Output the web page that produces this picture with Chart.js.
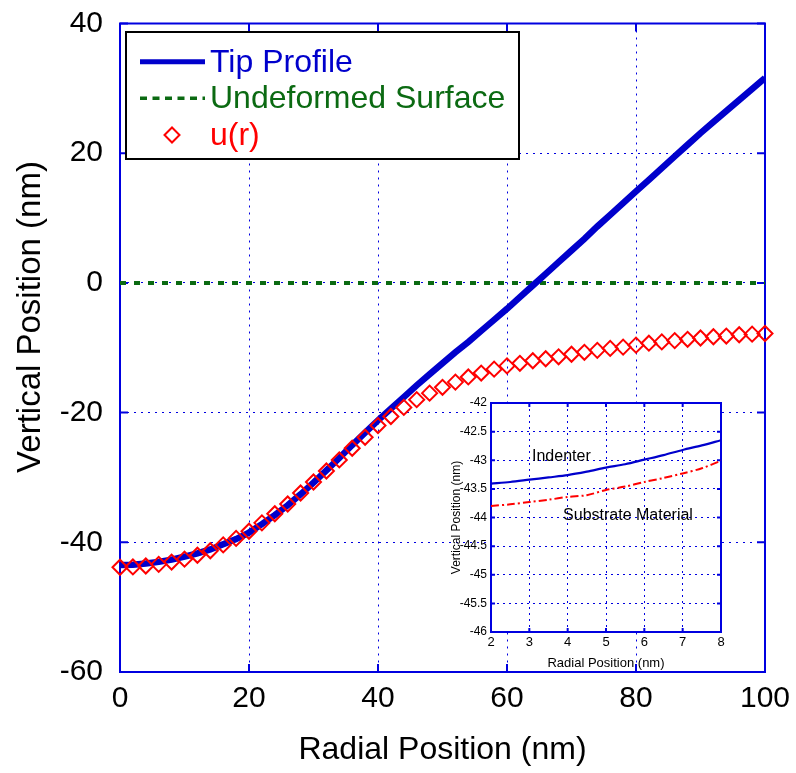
<!DOCTYPE html>
<html>
<head>
<meta charset="utf-8">
<script src="https://cdn.jsdelivr.net/npm/chart.js@4.4.1/dist/chart.umd.min.js"></script>
<style>
  html, body { margin: 0; padding: 0; background: #fff; }
  #wrap { position: relative; width: 796px; height: 773px; }
  #mainChart { position: absolute; left: 0; top: 0; }
  #insetChart { position: absolute; left: 440px; top: 390px; }
</style>
</head>
<body>
<div id="wrap">
  <canvas id="mainChart" width="796" height="773"></canvas>
  <canvas id="insetChart" width="290" height="283"></canvas>
</div>
<script>
// main plot data (nm)
const radii = [
  0, 2, 4, 6, 8, 10, 12, 14, 16, 18, 20, 22, 24, 26, 28, 30, 32, 34, 36, 38,
  40, 42, 44, 46, 48, 50, 52, 54, 56, 58, 60, 62, 64, 66, 68, 70, 72, 74, 76, 78,
  80, 82, 84, 86, 88, 90, 92, 94, 96, 98, 100,
];
const tipProfile = [
  -43.5, -43.45, -43.28, -43.02, -42.68, -42.2, -41.7, -41.1, -40.3, -39.5,
  -38.5, -37.2, -35.8, -34.3, -32.6, -30.8, -28.9, -27.0, -25.0, -23.1,
  -21.2, -19.4, -17.6, -15.8, -14.1, -12.4, -10.7, -9.1, -7.4, -5.7,
  -4.0, -2.2, -0.4, 1.4, 3.2, 5.0, 6.8, 8.7, 10.5, 12.3,
  14.1, 15.9, 17.7, 19.5, 21.3, 23.1, 24.8, 26.5, 28.2, 29.9, 31.6,
];
const uValues = [
  -43.85, -43.8, -43.65, -43.4, -43.05, -42.6, -42.0, -41.3, -40.4, -39.4,
  -38.3, -37.0, -35.6, -34.1, -32.4, -30.7, -29.0, -27.3, -25.5, -23.8,
  -22.0, -20.6, -19.2, -18.0, -17.0, -16.1, -15.3, -14.5, -13.9, -13.3,
  -12.8, -12.4, -12.0, -11.7, -11.4, -11.0, -10.7, -10.4, -10.1, -9.9,
  -9.6, -9.3, -9.1, -8.9, -8.7, -8.5, -8.3, -8.2, -8.0, -7.9, -7.8,
];
const surfaceX = [0, 100];
const surfaceY = [0, 0];
const xTicks = [0, 20, 40, 60, 80, 100];
const yTicks = [-60, -40, -20, 0, 20, 40];
const yTitle = "Vertical Position (nm)";

// inset data (nm)
const insetRadii = [2, 2.5, 3, 3.5, 4, 4.5, 5, 5.5, 6, 6.5, 7, 7.5, 8];
const insetIndenter = [
  -43.41, -43.38, -43.34, -43.3, -43.26, -43.2, -43.13, -43.07, -42.99, -42.91, -42.82, -42.74, -42.65,
];
const insetSubstrate = [
  -43.8, -43.77, -43.73, -43.69, -43.64, -43.61, -43.52, -43.46, -43.38, -43.31, -43.23, -43.14, -43.01,
];
const insetXTicks = [2, 3, 4, 5, 6, 7, 8];
const insetYTicks = [-46, -45.5, -45, -44.5, -44, -43.5, -43, -42.5, -42];
const insetNotes = ["Indenter", "Substrate Material"];
const insetNoteX = [3.07, 3.88];
const insetNoteY = [-42.94, -43.97];

const axisBlue = "#0000e0";
const tipBlue = "#0000cc";
const surfGreen = "#0b6a12";
const uRed = "#ff0000";
const fontFamily = '"Liberation Sans", Arial, sans-serif';

Chart.defaults.font.family = fontFamily;

const toPoints = (xs, ys) => xs.map((x, i) => ({ x, y: ys[i] }));

const fixedTicks = (values) => (scale) => {
  scale.ticks = values.map((v) => ({ value: v }));
};

// blue box round the plot area with inward tick marks
const makeFrame = (xVals, yVals, len) => ({
  id: "frame",
  beforeDatasetsDraw(chart) {
    const { ctx, chartArea } = chart;
    const { left, right, top, bottom } = chartArea;
    const sx = chart.scales.x;
    const sy = chart.scales.y;
    ctx.save();
    ctx.strokeStyle = axisBlue;
    ctx.lineWidth = 2;
    ctx.strokeRect(left, top, right - left, bottom - top);
    ctx.beginPath();
    xVals.forEach((v) => {
      const px = sx.getPixelForValue(v);
      ctx.moveTo(px, bottom);
      ctx.lineTo(px, bottom - len);
      ctx.moveTo(px, top);
      ctx.lineTo(px, top + len);
    });
    yVals.forEach((v) => {
      const py = sy.getPixelForValue(v);
      ctx.moveTo(left, py);
      ctx.lineTo(left + len, py);
      ctx.moveTo(right, py);
      ctx.lineTo(right - len, py);
    });
    ctx.stroke();
    ctx.restore();
  },
});

// boxed legend in the top-left corner, plus the y axis title (sits above centre)
const boxLegend = {
  id: "boxLegend",
  afterDraw(chart) {
    const { ctx } = chart;
    const rows = [61.7, 98.3, 135];
    ctx.save();
    ctx.fillStyle = "#fff";
    ctx.fillRect(126, 32, 393, 127);
    ctx.strokeStyle = "#000";
    ctx.lineWidth = 2;
    ctx.strokeRect(126, 32, 393, 127);

    const items = ["Tip Profile", "Undeformed Surface", "u(r)"].map((name) =>
      chart.data.datasets.find((d) => d.label === name)
    );
    ctx.font = "32px " + fontFamily;
    ctx.textBaseline = "middle";
    ctx.textAlign = "left";
    items.forEach((ds, i) => {
      const y = rows[i];
      ctx.strokeStyle = ds.borderColor;
      if (ds.pointStyle === "rectRot") {
        ctx.lineWidth = 2;
        ctx.setLineDash([]);
        ctx.beginPath();
        ctx.moveTo(164.5, y);
        ctx.lineTo(172, y - 7.5);
        ctx.lineTo(179.5, y);
        ctx.lineTo(172, y + 7.5);
        ctx.closePath();
        ctx.stroke();
      } else {
        ctx.lineWidth = ds.borderDash ? 3.5 : 5;
        ctx.setLineDash(ds.borderDash ? [7, 5.5] : []);
        ctx.beginPath();
        ctx.moveTo(140, y);
        ctx.lineTo(205, y);
        ctx.stroke();
      }
      ctx.setLineDash([]);
      ctx.fillStyle = ds.borderColor;
      ctx.fillText(ds.label, 210, y + 1);
    });

    ctx.translate(31, 317);
    ctx.rotate(-Math.PI / 2);
    ctx.fillStyle = "#000";
    ctx.font = "33px " + fontFamily;
    ctx.textAlign = "center";
    ctx.fillText(yTitle, 0, 0);
    ctx.restore();
  },
};

new Chart(document.getElementById("mainChart"), {
  type: "line",
  data: {
    datasets: [
      {
        label: "u(r)",
        data: toPoints(radii, uValues),
        showLine: false,
        pointStyle: "rectRot",
        pointRadius: 7.5,
        pointBorderWidth: 2,
        borderColor: uRed,
        backgroundColor: "rgba(0,0,0,0)",
        pointBackgroundColor: "rgba(0,0,0,0)",
        clip: false,
        order: 1,
      },
      {
        label: "Tip Profile",
        data: toPoints(radii, tipProfile),
        borderColor: tipBlue,
        borderWidth: 6.5,
        pointRadius: 0,
        tension: 0,
        order: 2,
      },
      {
        label: "Undeformed Surface",
        data: toPoints(surfaceX, surfaceY),
        borderColor: surfGreen,
        borderWidth: 4,
        borderDash: [6, 8],
        pointRadius: 0,
        order: 3,
      },
    ],
  },
  options: {
    responsive: false,
    animation: false,
    devicePixelRatio: 1,
    layout: { padding: { top: 23.5, right: 31, left: 0, bottom: 0 } },
    plugins: {
      legend: { display: false },
      tooltip: { enabled: false },
    },
    scales: {
      x: {
        type: "linear",
        min: 0,
        max: 100,
        afterBuildTicks: fixedTicks(xTicks),
        afterFit: (s) => {
          s.height = 101;
          s.paddingLeft = 0;
          s.paddingRight = 0;
        },
        ticks: {
          color: "#000",
          font: { size: 30 },
          padding: 9,
          maxRotation: 0,
          callback: (v) => String(v),
        },
        grid: { color: axisBlue, lineWidth: 1, drawTicks: false },
        border: { display: false, dash: [2, 5] },
        title: {
          display: true,
          text: "Radial Position (nm)",
          color: "#000",
          font: { size: 32 },
          padding: { top: 0, bottom: 4 },
        },
      },
      y: {
        type: "linear",
        min: -60,
        max: 40,
        afterBuildTicks: fixedTicks(yTicks),
        afterFit: (s) => {
          s.width = 120;
          s.paddingTop = 0;
          s.paddingBottom = 0;
        },
        ticks: {
          color: "#000",
          font: { size: 30 },
          padding: 17,
          callback: (v) => String(v),
        },
        grid: { color: axisBlue, lineWidth: 1, drawTicks: false },
        border: { display: false, dash: [2, 5] },
      },
    },
  },
  plugins: [makeFrame(xTicks, yTicks, 8), boxLegend],
});

// inset: white plot area, notes beside the curves
const insetBackground = {
  id: "insetBackground",
  beforeDraw(chart) {
    const { ctx, chartArea } = chart;
    ctx.save();
    ctx.fillStyle = "#fff";
    ctx.fillRect(chartArea.left, chartArea.top, chartArea.right - chartArea.left, chartArea.bottom - chartArea.top);
    ctx.restore();
  },
  afterDatasetsDraw(chart) {
    const { ctx } = chart;
    ctx.save();
    ctx.fillStyle = "#000";
    ctx.font = "16px " + fontFamily;
    ctx.textBaseline = "middle";
    ctx.textAlign = "left";
    insetNotes.forEach((txt, i) => {
      ctx.fillText(txt, chart.scales.x.getPixelForValue(insetNoteX[i]), chart.scales.y.getPixelForValue(insetNoteY[i]));
    });
    ctx.restore();
  },
};

new Chart(document.getElementById("insetChart"), {
  type: "line",
  data: {
    datasets: [
      {
        label: "Indenter",
        data: toPoints(insetRadii, insetIndenter),
        borderColor: tipBlue,
        borderWidth: 2.2,
        pointRadius: 0,
        tension: 0.3,
      },
      {
        label: "Substrate Material",
        data: toPoints(insetRadii, insetSubstrate),
        borderColor: uRed,
        borderWidth: 2,
        borderDash: [8, 3, 2, 3],
        pointRadius: 0,
        tension: 0.3,
      },
    ],
  },
  options: {
    responsive: false,
    animation: false,
    devicePixelRatio: 1,
    layout: { padding: { top: 13, right: 9, left: 0, bottom: 0 } },
    plugins: {
      legend: { display: false },
      tooltip: { enabled: false },
    },
    scales: {
      x: {
        type: "linear",
        min: 2,
        max: 8,
        afterBuildTicks: fixedTicks(insetXTicks),
        afterFit: (s) => {
          s.height = 41;
          s.paddingLeft = 0;
          s.paddingRight = 0;
        },
        ticks: {
          color: "#000",
          font: { size: 13 },
          padding: 3,
          maxRotation: 0,
          callback: (v) => String(v),
        },
        grid: { color: axisBlue, lineWidth: 1, drawTicks: false },
        border: { display: false, dash: [2, 4] },
        title: {
          display: true,
          text: "Radial Position (nm)",
          color: "#000",
          font: { size: 13 },
          padding: { top: 0, bottom: 2 },
        },
      },
      y: {
        type: "linear",
        min: -46,
        max: -42,
        afterBuildTicks: fixedTicks(insetYTicks),
        afterFit: (s) => {
          s.width = 51;
          s.paddingTop = 0;
          s.paddingBottom = 0;
        },
        ticks: {
          color: "#000",
          font: { size: 12 },
          padding: 4,
          callback: (v) => String(v),
        },
        grid: { color: axisBlue, lineWidth: 1, drawTicks: false },
        border: { display: false, dash: [2, 4] },
        title: {
          display: true,
          text: "Vertical Position (nm)",
          color: "#000",
          font: { size: 12 },
          padding: { top: 9, bottom: 0 },
        },
      },
    },
  },
  plugins: [insetBackground, makeFrame(insetXTicks, insetYTicks, 4)],
});
</script>
</body>
</html>
